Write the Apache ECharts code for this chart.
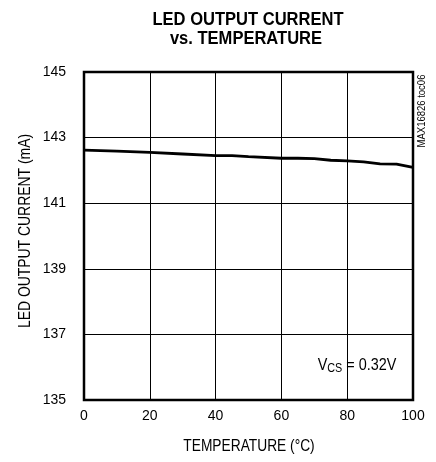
<!DOCTYPE html>
<html><head><meta charset="utf-8">
<script src="https://cdn.jsdelivr.net/npm/echarts@6/dist/echarts.min.js"></script>
<style>html,body{margin:0;padding:0;background:#fff}#c{width:436px;height:462px}</style>
</head><body><div id="c"></div>
<script>
const temperature = [0, 10, 20, 30, 40, 45, 50, 60, 65, 70, 75, 80, 85, 90, 95, 100];
const current = [142.62, 142.59, 142.55, 142.50, 142.45, 142.45, 142.42, 142.37, 142.37, 142.36, 142.31, 142.29, 142.26, 142.20, 142.19, 142.09];
const titleLines = ['LED OUTPUT CURRENT', 'vs. TEMPERATURE'];
const xName = 'TEMPERATURE (°C)';
const yName = 'LED OUTPUT CURRENT (mA)';
const noteText = 'MAX16826 toc06';

const F = '"Liberation Sans", Arial, sans-serif';
const chart = echarts.init(document.getElementById('c'), null, {renderer: 'canvas'});
chart.setOption({
  animation: false,
  backgroundColor: '#fff',
  grid: {left: 84, right: 23, top: 72, bottom: 62, show: true, borderColor: '#000', borderWidth: 2.5},
  xAxis: {
    type: 'value', min: 0, max: 100, interval: 20,
    axisLine: {show: false}, axisTick: {show: false},
    axisLabel: {fontFamily: F, fontSize: 14, color: '#000', margin: 9},
    splitLine: {show: true, lineStyle: {color: '#000', width: 1}}
  },
  yAxis: {
    type: 'value', min: 135, max: 145, interval: 2,
    axisLine: {show: false}, axisTick: {show: false},
    axisLabel: {fontFamily: F, fontSize: 14, color: '#000', margin: 18},
    splitLine: {show: true, lineStyle: {color: '#000', width: 1}}
  },
  graphic: [
    {type: 'text', x: 248, y: 20, scaleX: 0.87,
     style: {text: titleLines[0], font: 'bold 19px ' + F, fill: '#000', textAlign: 'center', textVerticalAlign: 'middle'}},
    {type: 'text', x: 246, y: 39, scaleX: 0.87,
     style: {text: titleLines[1], font: 'bold 19px ' + F, fill: '#000', textAlign: 'center', textVerticalAlign: 'middle'}},
    {type: 'text', x: 26, y: 231, rotation: Math.PI/2, scaleX: 0.87,
     style: {text: yName, font: '16px ' + F, fill: '#000', textAlign: 'center', textVerticalAlign: 'middle'}},
    {type: 'text', x: 249, y: 447, scaleX: 0.86,
     style: {text: xName, font: '16px ' + F, fill: '#000', textAlign: 'center', textVerticalAlign: 'middle'}},
    {type: 'text', x: 422, y: 111, rotation: Math.PI/2, scaleX: 0.95,
     style: {text: noteText, font: '10px ' + F, fill: '#000', textAlign: 'center', textVerticalAlign: 'middle'}},
    {type: 'text', x: 357, y: 366, scaleX: 0.9,
     style: {text: '{v|V}{s|CS}{v| = 0.32V}', textAlign: 'center', textVerticalAlign: 'middle',
       rich: {v: {fontFamily: F, fontSize: 16, color: '#000'},
              s: {fontFamily: F, fontSize: 12, color: '#000', verticalAlign: 'bottom', padding: [5, 0, 0, 0]}}}}
  ],
  series: [{
    type: 'line', data: temperature.map((t, i) => [t, current[i]]),
    showSymbol: false, lineStyle: {color: '#000', width: 2.8}, smooth: false
  }]
});
</script></body></html>
